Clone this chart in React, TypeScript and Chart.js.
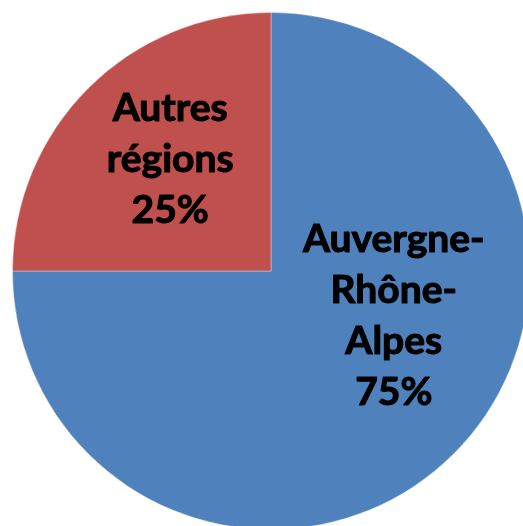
import React, { useEffect, useRef } from "react";
import { Chart, registerables } from "chart.js";

Chart.register(...registerables);

const categories = ["Auvergne-Rhône-Alpes", "Autres régions"];
const values = [75, 25];
const labelLines = [
  ["Auvergne-", "Rhône-", "Alpes", "75%"],
  ["Autres", "régions", "25%"],
];
const colors = ["#4F81BD", "#C0504D"];
// label anchor offsets as fraction of radius (dx, dy) from pie centre
const labelOffsets = [
  [0.475, 0.175],
  [-0.39, -0.43],
];

const labelPlugin = {
  id: "sliceLabels",
  afterDatasetsDraw(chart: any) {
    const ctx = chart.ctx;
    const meta = chart.getDatasetMeta(0);
    ctx.save();
    ctx.fillStyle = "#000000";
    ctx.strokeStyle = "#000000";
    ctx.lineWidth = 1.1;
    ctx.lineJoin = "round";
    ctx.font = "bold 39px Lato";
    ctx.textAlign = "center";
    ctx.textBaseline = "middle";
    const lh = 51;
    meta.data.forEach((arc: any, i: number) => {
      const r = arc.outerRadius;
      const cx = arc.x + labelOffsets[i][0] * r;
      const cy = arc.y + labelOffsets[i][1] * r;
      const lines = labelLines[i];
      const y0 = cy - ((lines.length - 1) * lh) / 2;
      lines.forEach((t, j) => {
        ctx.fillText(t, cx, y0 + j * lh);
        ctx.strokeText(t, cx, y0 + j * lh);
      });
    });
    ctx.restore();
  },
};

export default function App() {
  const ref = useRef<HTMLCanvasElement>(null);
  useEffect(() => {
    const chart = new Chart(ref.current!, {
      type: "pie",
      data: {
        labels: categories,
        datasets: [
          {
            data: values,
            backgroundColor: colors,
            borderColor: "rgba(255,255,255,0.35)",
            borderWidth: 1,
          },
        ],
      },
      options: {
        animation: false,
        responsive: false,
        maintainAspectRatio: false,
        layout: { padding: 0 },
        plugins: { legend: { display: false }, tooltip: { enabled: false } },
      },
      plugins: [labelPlugin],
    });
    return () => chart.destroy();
  }, []);
  return (
    <div
      style={{
        position: "fixed",
        left: 0,
        top: 0,
        width: 523,
        height: 526,
        overflow: "hidden",
        background: "#fff",
      }}
    >
      <canvas
        ref={ref}
        width={518}
        height={518}
        style={{ position: "absolute", left: 12, top: 12, width: 518, height: 518 }}
      />
    </div>
  );
}
